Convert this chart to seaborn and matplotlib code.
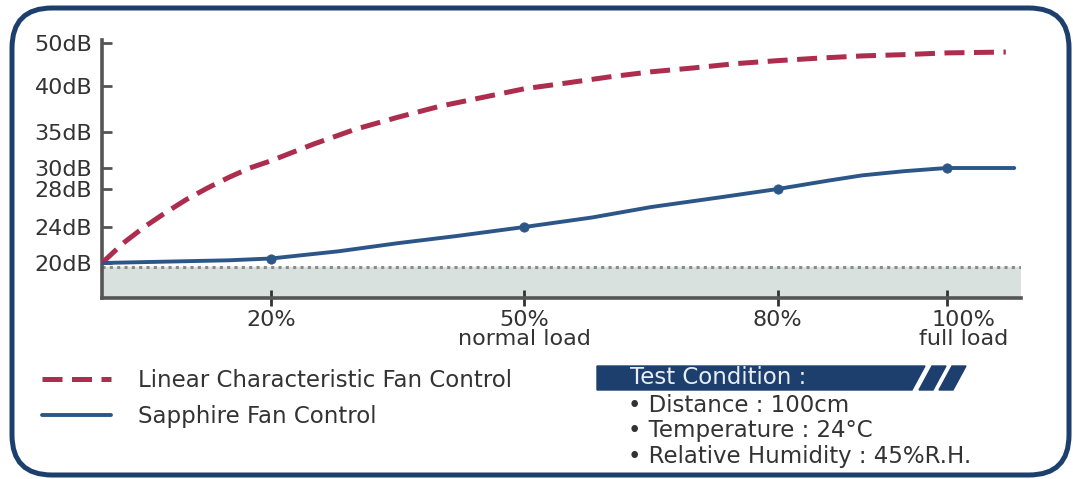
import numpy as np
import pandas as pd
import matplotlib
matplotlib.use("Agg")
import matplotlib.pyplot as plt
import seaborn as sns
from matplotlib.patches import FancyBboxPatch, Polygon
from matplotlib.transforms import ScaledTranslation

# values (fan load in %, noise in dB)
linear_pct = [0, 2.5, 5, 7.5, 10, 12.5, 15, 17.5, 20, 25, 30, 35, 40, 45, 50, 55, 60, 65, 70, 75,
              80, 85, 90, 95, 100, 107]
linear_db = [20.0, 22.2, 24.0, 25.5, 26.9, 28.1, 29.1, 30.0, 31.0, 33.3, 35.3, 36.6, 37.8, 38.75,
             39.7, 40.7, 42.1, 43.3, 44.2, 45.2, 45.9, 46.5, 47.0, 47.3, 47.7, 47.9]

sapphire_pct = [0, 10, 15, 20, 28, 35, 42, 50, 58, 65, 73, 80, 86, 90, 95, 100, 108]
sapphire_db = [20.0, 20.2, 20.3, 20.5, 21.3, 22.2, 23.0, 24.0, 25.0, 26.1, 27.1, 28.0, 28.8, 29.3, 29.7, 30.0, 30.0]
marker_pct = [20, 50, 80, 100]

quiet_floor_db = 19.6

y_ticks = [20, 24, 28, 30, 35, 40, 50]
y_labels = ["20dB", "24dB", "28dB", "30dB", "35dB", "40dB", "50dB"]
x_ticks = [20, 50, 80, 100]
x_labels = ["20%", "50%\nnormal load", "80%", "100%\nfull load"]

series_names = ["Linear Characteristic Fan Control", "Sapphire Fan Control"]
conditions = ["• Distance : 100cm", "• Temperature : 24°C", "• Relative Humidity : 45%R.H."]

RED = "#ad2d4f"
BLUE = "#2c5687"
NAVY = "#1d3f6e"
TEXT = "#333333"
AXIS = "#555555"

# the printed dB axis is not linear: map each labelled level to its height
scale_db = [16, 20, 24, 28, 30, 35, 40, 50, 52]
scale_h = [0, 35, 71, 109, 130, 166, 212, 255, 263.6]


def fwd(v):
    return np.interp(v, scale_db, scale_h)


def inv(v):
    return np.interp(v, scale_h, scale_db)


sns.set_theme(style="white")
plt.rcParams["font.family"] = ["DejaVu Sans"]

W, H = 1073, 479
fig = plt.figure(figsize=(W / 100, H / 100), dpi=100)
ax = fig.add_axes([102 / W, (H - 298) / H, 919 / W, 258 / H])


def px(x, y):
    return x / 100, (H - y) / 100


ax.set_yscale("function", functions=(fwd, inv))

# quiet band under 20dB
ax.axhspan(16, quiet_floor_db, color="#d9e1df", zorder=0)
ax.axhline(quiet_floor_db, color="#8a8a8a", lw=2.2, ls=(0, (1, 1.4)), zorder=1)

lin_df = pd.DataFrame({"load": linear_pct, "db": linear_db})
sap_df = pd.DataFrame({"load": sapphire_pct, "db": sapphire_db})
mk_df = sap_df[sap_df["load"].isin(marker_pct)]

sns.lineplot(data=lin_df, x="load", y="db", color=RED, lw=3.6,
             linestyle=(0, (4.0, 1.9)), label=series_names[0], ax=ax, zorder=3)
sns.lineplot(data=sap_df, x="load", y="db", color=BLUE, lw=2.8,
             label=series_names[1], ax=ax, zorder=4)
sns.scatterplot(data=mk_df, x="load", y="db", color=BLUE, s=45, edgecolor=BLUE,
                ax=ax, zorder=5, legend=False)

ax.set_xlim(0, 108.8)
ax.set_ylim(16, 50.7)
ax.set_xlabel("")
ax.set_ylabel("")

ax.set_yticks(y_ticks)
ax.set_yticklabels(y_labels)
ax.set_xticks(x_ticks)
ax.set_xticklabels(x_labels, linespacing=0.9)
ax.minorticks_off()

ax.tick_params(axis="y", direction="in", length=7, width=2, color=AXIS,
               labelsize=16, labelcolor=TEXT, pad=7, left=True)
ax.tick_params(axis="x", direction="inout", length=12, width=2, color="#333333",
               labelsize=16, labelcolor=TEXT, pad=3, bottom=True)

lab = ax.get_xticklabels()[3]
lab.set_transform(lab.get_transform() + ScaledTranslation(0.17, 0, fig.dpi_scale_trans))

for side in ["top", "right"]:
    ax.spines[side].set_visible(False)
for side in ["left", "bottom"]:
    ax.spines[side].set_color(AXIS)
    ax.spines[side].set_linewidth(2.6)
ax.patch.set_alpha(0)

leg = ax.legend(loc="upper left", bbox_to_anchor=px(42, 369), bbox_transform=fig.dpi_scale_trans,
                frameon=False, fontsize=16.5, labelcolor=TEXT, handlelength=3.0,
                handletextpad=1.2, labelspacing=0.55, borderpad=0, borderaxespad=0)

# test condition banner
tr = fig.dpi_scale_trans
fig.add_artist(Polygon([px(597, 366), px(925, 366), px(912, 390), px(597, 390)],
                       closed=True, color=NAVY, transform=tr))
for x0 in [932, 952]:
    fig.add_artist(Polygon([px(x0, 366), px(x0 + 14, 366), px(x0 + 1, 390), px(x0 - 13, 390)],
                           closed=True, color=NAVY, transform=tr))
fig.text(*px(630, 378), "Test Condition :", color="#e8eef6", fontsize=16.5,
         va="center", ha="left", transform=tr)
for i, line in enumerate(conditions):
    fig.text(*px(628, 405 + 25.5 * i), line, color=TEXT, fontsize=16.5,
             va="center", ha="left", transform=tr)

# rounded outer frame
frame = FancyBboxPatch(px(12, 475), (1069 - 12) / 100, (475 - 8) / 100,
                       boxstyle="round,pad=0,rounding_size=0.4", fill=False,
                       ec=NAVY, lw=3.6, transform=tr)
fig.add_artist(frame)

fig.savefig("out.png", dpi=100)
